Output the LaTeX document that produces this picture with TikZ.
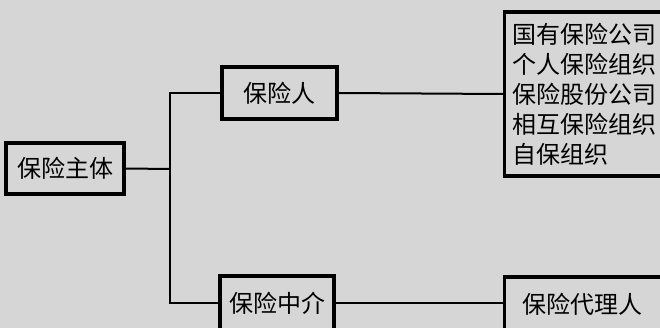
\documentclass[tikz,border=0pt]{standalone}
\usepackage{fontspec}
\newfontfamily\cjk{Noto Sans CJK SC}
\definecolor{bg}{RGB}{214,214,214}
\begin{document}
\begin{tikzpicture}[x=1pt,y=-1pt,
  box/.style={draw=black,line width=3.2pt,fill=none,inner sep=0pt,font=\cjk\fontsize{24}{30}\selectfont,text=black},
  conn/.style={draw=black,line width=2pt}]
\useasboundingbox (0,0) rectangle (660,328);
\fill[bg] (0,0) rectangle (660,328);
\clip (0,0) rectangle (660,328);
\node[box,minimum width=118pt,minimum height=51pt] (zhuti) at (65,168.5) {保险主体};
\node[box,minimum width=115pt,minimum height=52pt] (ren) at (279.5,93) {保险人};
\node[box,minimum width=114pt,minimum height=54pt] (zhongjie) at (277,303) {保险中介};
\node[box,minimum width=170pt,minimum height=54pt,anchor=west,align=left,text width=154pt,inner xsep=8pt] (daili) at (503,304) {\hspace*{10pt}保险代理人};
\node[box,anchor=west,minimum height=164pt,align=left,text width=156pt,inner xsep=8pt] (big) at (503,94) {国有保险公司\\个人保险组织\\保险股份公司\\相互保险组织\\自保组织};
\coordinate (j) at (170,169);
\draw[conn] (zhuti.east) -- (j);
\draw[conn] (ren.west) -| (j) |- (zhongjie.west);
\draw[conn] (ren.east) -- (big.west);
\draw[conn] (zhongjie.east) -- (daili.west |- zhongjie.east);
\end{tikzpicture}
\end{document}
